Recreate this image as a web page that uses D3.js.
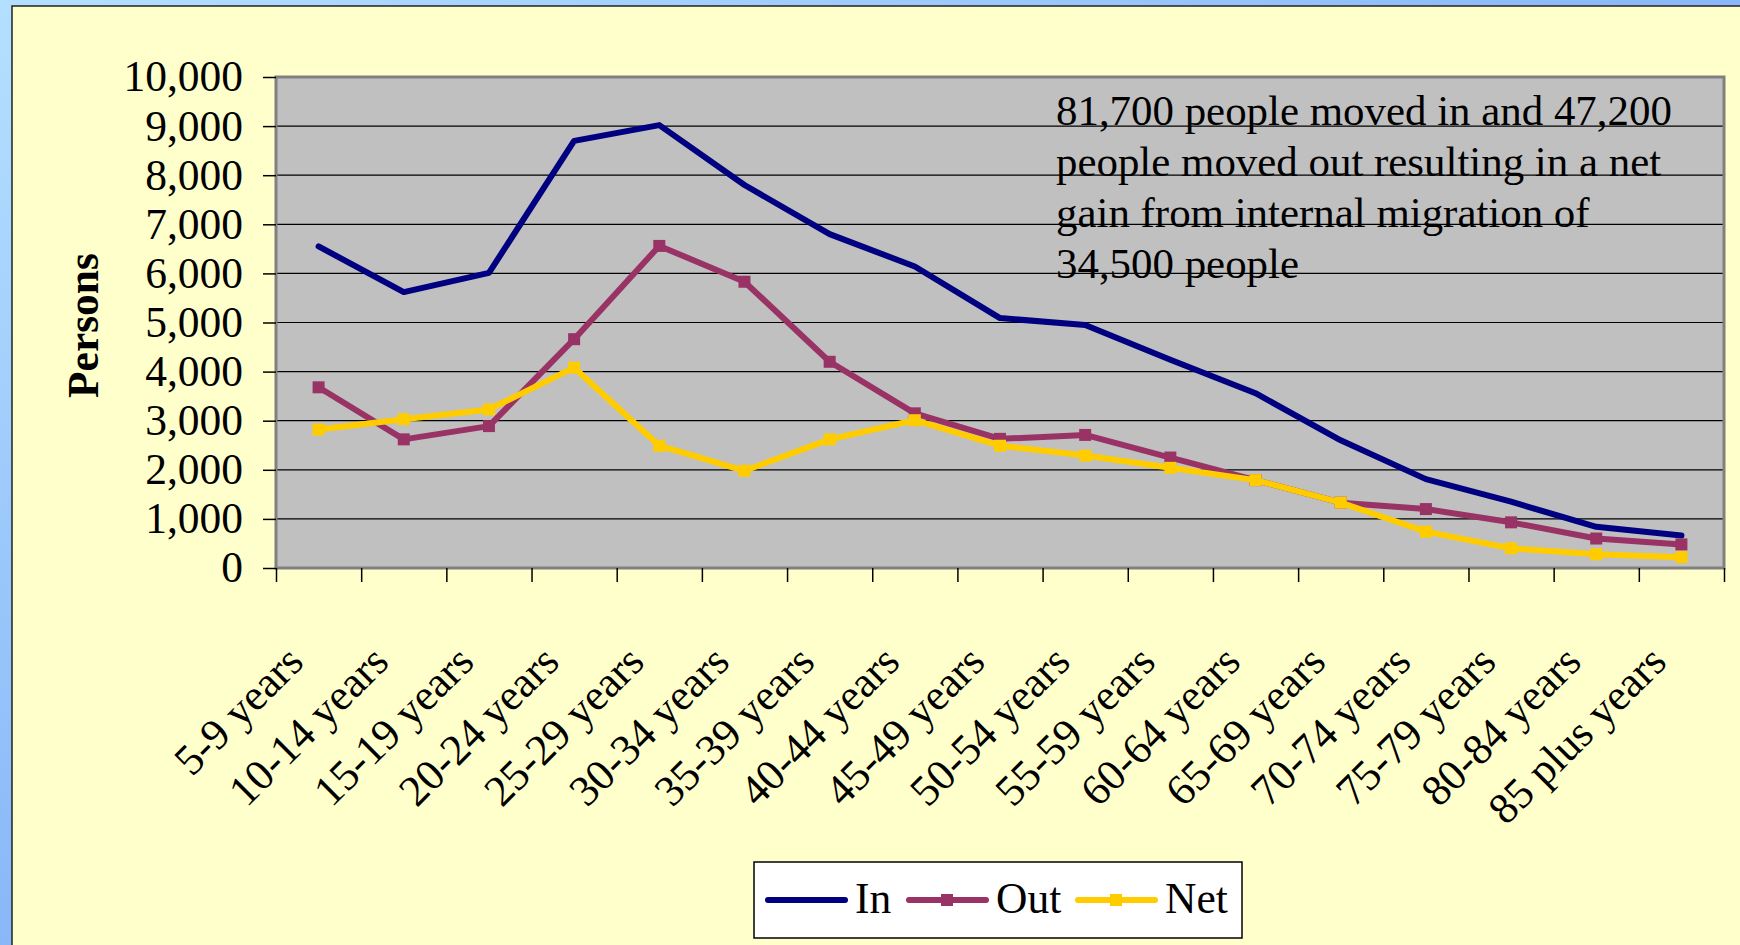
<!DOCTYPE html>
<html>
<head>
<meta charset="utf-8">
<script src="https://cdn.jsdelivr.net/npm/d3@7"></script>
<style>
  html, body { margin: 0; padding: 0; overflow: hidden; }
  svg { display: block; font-family: "Liberation Serif", "Times New Roman", serif; }
</style>
</head>
<body>
<svg id="chart" width="1740" height="945"></svg>
<script>
// age groups along the bottom
const ageGroups = ["5-9 years", "10-14 years", "15-19 years", "20-24 years", "25-29 years",
  "30-34 years", "35-39 years", "40-44 years", "45-49 years", "50-54 years", "55-59 years",
  "60-64 years", "65-69 years", "70-74 years", "75-79 years", "80-84 years", "85 plus years"];

// persons
const inValues  = [6550, 5620, 6010, 8700, 9020, 7800, 6800, 6140, 5090, 4950, 4240, 3560, 2600, 1810, 1350, 840, 660];
const outValues = [3680, 2620, 2890, 4660, 6560, 5830, 4200, 3150, 2630, 2710, 2250, 1790, 1330, 1200, 930, 600, 480];
const netValues = [2820, 3030, 3230, 4080, 2490, 1980, 2620, 3010, 2490, 2290, 2040, 1790, 1330, 740, 400, 280, 220];

const yTicks = [0, 1000, 2000, 3000, 4000, 5000, 6000, 7000, 8000, 9000, 10000];

const noteLines = ["81,700 people moved in and 47,200",
  "people moved out resulting in a net",
  "gain from internal migration of",
  "34,500 people"];

const series = [
  {name: "In",  values: inValues,  color: "#000080", marker: false},
  {name: "Out", values: outValues, color: "#993366", marker: true},
  {name: "Net", values: netValues, color: "#FFCC00", marker: true}
];

const fontSize = 43.5;

const svg = d3.select("#chart");

// plot area edges
const plot = {left: 276, right: 1724, top: 77, bottom: 568};

// blue backdrop and the pale yellow panel
const defs = svg.append("defs");
const grad = defs.append("linearGradient")
    .attr("id", "bg")
    .attr("x1", "0%").attr("y1", "0%").attr("x2", "100%").attr("y2", "100%");
grad.append("stop").attr("offset", "0%").attr("stop-color", "#B4E0FF");
grad.append("stop").attr("offset", "100%").attr("stop-color", "#5E8EF0");

svg.append("rect")
    .attr("width", 1740).attr("height", 945)
    .attr("fill", "url(#bg)");

svg.append("rect")
    .attr("x", 12).attr("y", 6)
    .attr("width", 1740).attr("height", 945)
    .attr("fill", "#FFFFCC")
    .attr("stroke", "#222")
    .attr("stroke-width", 1.5);

const x = d3.scaleBand()
    .domain(ageGroups)
    .range([plot.left, plot.right])
    .padding(0);

const y = d3.scaleLinear()
    .domain([0, 10000])
    .range([plot.bottom, plot.top]);

// grey plot background
svg.append("rect")
    .attr("x", plot.left).attr("y", plot.top)
    .attr("width", plot.right - plot.left)
    .attr("height", plot.bottom - plot.top)
    .attr("fill", "#C0C0C0");

// note text
svg.append("g")
    .attr("font-size", 42.9)
    .attr("fill", "#000")
    .selectAll("text")
    .data(noteLines)
    .join("text")
    .attr("x", 1056)
    .attr("y", (d, i) => 125 + i * 51)
    .text(d => d);

// gridlines
svg.append("g")
    .selectAll("line")
    .data(yTicks.filter(d => d > 0 && d < 10000))
    .join("line")
    .attr("x1", plot.left).attr("x2", plot.right)
    .attr("y1", d => y(d)).attr("y2", d => y(d))
    .attr("stroke", "#000")
    .attr("stroke-width", 1.2);

// plot border
svg.append("rect")
    .attr("x", plot.left).attr("y", plot.top)
    .attr("width", plot.right - plot.left)
    .attr("height", plot.bottom - plot.top)
    .attr("fill", "none")
    .attr("stroke", "#808080")
    .attr("stroke-width", 3);

// y axis
const yAxis = svg.append("g")
    .attr("transform", `translate(${plot.left},0)`)
    .call(d3.axisLeft(y)
        .tickValues(yTicks)
        .tickFormat(d3.format(","))
        .tickSize(13)
        .tickPadding(20));
yAxis.select(".domain").remove();
yAxis.selectAll("line").attr("stroke", "#000").attr("stroke-width", 1.5);
yAxis.selectAll("text")
    .attr("font-family", "Liberation Serif, serif")
    .attr("font-size", fontSize)
    .attr("fill", "#000");

// x axis ticks sit on the category boundaries
const xEdge = d3.scaleLinear().domain([0, ageGroups.length]).range([plot.left, plot.right]);
const xAxis = svg.append("g")
    .attr("transform", `translate(0,${plot.bottom})`)
    .call(d3.axisBottom(xEdge)
        .tickValues(d3.range(0, ageGroups.length + 1))
        .tickFormat("")
        .tickSize(14));
xAxis.select(".domain").remove();
xAxis.selectAll("line").attr("stroke", "#000").attr("stroke-width", 1.5);

// rotated category labels
svg.append("g")
    .attr("font-size", fontSize)
    .attr("fill", "#000")
    .attr("text-anchor", "end")
    .selectAll("text")
    .data(ageGroups)
    .join("text")
    .attr("transform", d => `translate(${x(d) + x.bandwidth() / 2 - 13},664) rotate(-45)`)
    .text(d => d);

// axis title
svg.append("text")
    .attr("transform", `translate(98,${(plot.top + plot.bottom) / 2 + 3}) rotate(-90)`)
    .attr("text-anchor", "middle")
    .attr("font-size", fontSize)
    .attr("font-weight", "bold")
    .text("Persons");

// series lines
const line = d3.line()
    .x((d, i) => x(ageGroups[i]) + x.bandwidth() / 2)
    .y(d => y(d));

const gSeries = svg.append("g");
series.forEach(s => {
  const g = gSeries.append("g");
  g.append("path")
      .attr("d", line(s.values))
      .attr("fill", "none")
      .attr("stroke", s.color)
      .attr("stroke-width", 6)
      .attr("stroke-linejoin", "round")
      .attr("stroke-linecap", "round");
  if (s.marker) {
    g.selectAll("rect")
        .data(s.values)
        .join("rect")
        .attr("x", (d, i) => x(ageGroups[i]) + x.bandwidth() / 2 - 6)
        .attr("y", d => y(d) - 6)
        .attr("width", 12).attr("height", 12)
        .attr("fill", s.color);
  }
});

// legend
const legend = svg.append("g");
legend.append("rect")
    .attr("x", 754).attr("y", 862)
    .attr("width", 488).attr("height", 76)
    .attr("fill", "#fff")
    .attr("stroke", "#000")
    .attr("stroke-width", 1.5);

const legendX = [768, 909, 1078];
series.forEach((s, i) => {
  const lx = legendX[i];
  legend.append("line")
      .attr("x1", lx).attr("x2", lx + 77)
      .attr("y1", 900).attr("y2", 900)
      .attr("stroke", s.color)
      .attr("stroke-width", 6)
      .attr("stroke-linecap", "round");
  if (s.marker) {
    legend.append("rect")
        .attr("x", lx + 38 - 6).attr("y", 894)
        .attr("width", 12).attr("height", 12)
        .attr("fill", s.color);
  }
  legend.append("text")
      .attr("x", lx + 87)
      .attr("y", 913)
      .attr("font-size", fontSize)
      .text(s.name);
});
</script>
</body>
</html>
